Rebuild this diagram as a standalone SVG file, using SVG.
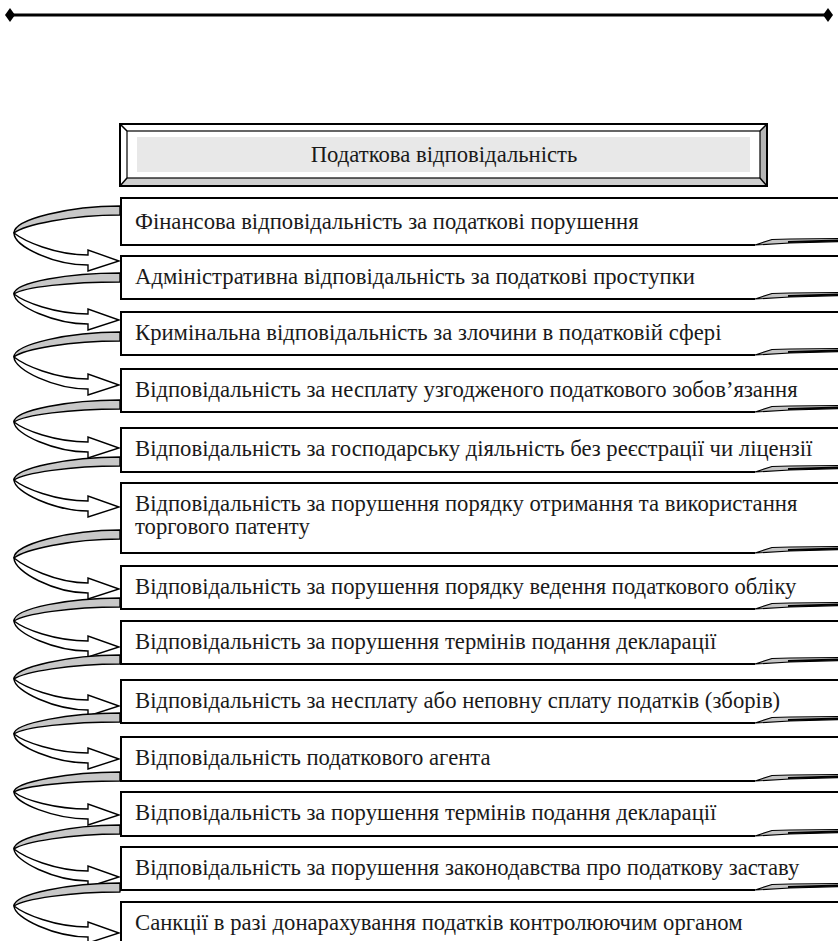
<svg xmlns="http://www.w3.org/2000/svg" width="838" height="941" viewBox="0 0 838 941">
<defs>
<marker id="dia" viewBox="-5 -7 10 14" markerWidth="10" markerHeight="14" markerUnits="userSpaceOnUse" refX="0" refY="0" orient="auto">
<path d="M-5,0 L0,-7 L5,0 L0,7 Z" fill="#000"/>
</marker>
</defs>
<style>
.box{fill:#fff;stroke:#000;stroke-width:2}
.t{font-family:"Liberation Serif","Times New Roman",serif;font-size:22.7px;fill:#1a1a1a}
.back{fill:#c8c8c8;stroke:#000;stroke-width:1.4;stroke-linejoin:round}
.front{fill:#fff;stroke:#000;stroke-width:1.4;stroke-linejoin:miter}
.dec{fill:#c4c4c4;stroke:#000;stroke-width:1.2;stroke-linejoin:round}
.decl{stroke:#000;stroke-width:2;fill:none}
</style>
<rect width="838" height="941" fill="#fff"/>
<line x1="10" y1="15" x2="828" y2="15" stroke="#000" stroke-width="3" marker-start="url(#dia)" marker-end="url(#dia)"/>

<g id="title">
<rect x="120" y="124" width="647" height="62" fill="#fff" stroke="#000" stroke-width="2"/>
<polygon points="120,186 767,186 760,178 127,178" fill="#cfcfcf"/>
<polygon points="767,124 767,186 760,178 760,131" fill="#b5b5b5"/>
<rect x="127" y="131" width="633" height="47" fill="#fff" stroke="#000" stroke-width="1.2"/>
<rect x="137" y="137" width="613" height="35" fill="#e8e8e8"/>
<path d="M120,124 L127,131 M120,186 L127,178 M767,124 L760,131 M767,186 L760,178" stroke="#000" stroke-width="1.5"/>
<rect x="120" y="124" width="647" height="62" fill="none" stroke="#000" stroke-width="2"/>
<text class="t" x="444" y="162" text-anchor="middle">Податкова відповідальність</text>
</g>

<g id="node-1">
<path class="box" d="M840,198 H121 V245 H755"/>
<path class="dec" d="M755,245 L772,239.5 L790,239 L840,238.5 L840,241.5 L790,243 Z"/>
<line class="decl" x1="788" y1="242" x2="840" y2="240.5"/>
<text class="t" x="135" y="229">Фінансова відповідальність за податкові порушення</text>
</g>
<g id="node-2">
<path class="box" d="M840,256 H121 V299 H755"/>
<path class="dec" d="M755,299 L772,293.5 L790,293 L840,292.5 L840,295.5 L790,297 Z"/>
<line class="decl" x1="788" y1="296" x2="840" y2="294.5"/>
<text class="t" x="135" y="284">Адміністративна відповідальність за податкові проступки</text>
</g>
<g id="node-3">
<path class="box" d="M840,312 H121 V355 H755"/>
<path class="dec" d="M755,355 L772,349.5 L790,349 L840,348.5 L840,351.5 L790,353 Z"/>
<line class="decl" x1="788" y1="352" x2="840" y2="350.5"/>
<text class="t" x="135" y="340">Кримінальна відповідальність за злочини в податковій сфері</text>
</g>
<g id="node-4">
<path class="box" d="M840,369 H121 V412 H755"/>
<path class="dec" d="M755,412 L772,406.5 L790,406 L840,405.5 L840,408.5 L790,410 Z"/>
<line class="decl" x1="788" y1="409" x2="840" y2="407.5"/>
<text class="t" x="135" y="397">Відповідальність за несплату узгодженого податкового зобов’язання</text>
</g>
<g id="node-5">
<path class="box" d="M840,428 H121 V472 H755"/>
<path class="dec" d="M755,472 L772,466.5 L790,466 L840,465.5 L840,468.5 L790,470 Z"/>
<line class="decl" x1="788" y1="469" x2="840" y2="467.5"/>
<text class="t" x="135" y="456">Відповідальність за господарську діяльність без реєстрації чи ліцензії</text>
</g>
<g id="node-6">
<path class="box" d="M840,483 H121 V553 H755"/>
<path class="dec" d="M755,553 L772,547.5 L790,547 L840,546.5 L840,549.5 L790,551 Z"/>
<line class="decl" x1="788" y1="550" x2="840" y2="548.5"/>
<text class="t" x="135" y="511">Відповідальність за порушення порядку отримання та використання</text>
<text class="t" x="135" y="534">торгового патенту</text>
</g>
<g id="node-7">
<path class="box" d="M840,566 H121 V609 H755"/>
<path class="dec" d="M755,609 L772,603.5 L790,603 L840,602.5 L840,605.5 L790,607 Z"/>
<line class="decl" x1="788" y1="606" x2="840" y2="604.5"/>
<text class="t" x="135" y="594">Відповідальність за порушення порядку ведення податкового обліку</text>
</g>
<g id="node-8">
<path class="box" d="M840,621 H121 V664 H755"/>
<path class="dec" d="M755,664 L772,658.5 L790,658 L840,657.5 L840,660.5 L790,662 Z"/>
<line class="decl" x1="788" y1="661" x2="840" y2="659.5"/>
<text class="t" x="135" y="649">Відповідальність за порушення термінів подання декларації</text>
</g>
<g id="node-9">
<path class="box" d="M840,680 H121 V723 H755"/>
<path class="dec" d="M755,723 L772,717.5 L790,717 L840,716.5 L840,719.5 L790,721 Z"/>
<line class="decl" x1="788" y1="720" x2="840" y2="718.5"/>
<text class="t" x="135" y="708">Відповідальність за несплату або неповну сплату податків (зборів)</text>
</g>
<g id="node-10">
<path class="box" d="M840,737 H121 V781 H755"/>
<path class="dec" d="M755,781 L772,775.5 L790,775 L840,774.5 L840,777.5 L790,779 Z"/>
<line class="decl" x1="788" y1="778" x2="840" y2="776.5"/>
<text class="t" x="135" y="765">Відповідальність податкового агента</text>
</g>
<g id="node-11">
<path class="box" d="M840,792 H121 V836 H755"/>
<path class="dec" d="M755,836 L772,830.5 L790,830 L840,829.5 L840,832.5 L790,834 Z"/>
<line class="decl" x1="788" y1="833" x2="840" y2="831.5"/>
<text class="t" x="135" y="820">Відповідальність за порушення термінів подання декларації</text>
</g>
<g id="node-12">
<path class="box" d="M840,847 H121 V890 H755"/>
<path class="dec" d="M755,890 L772,884.5 L790,884 L840,883.5 L840,886.5 L790,888 Z"/>
<line class="decl" x1="788" y1="887" x2="840" y2="885.5"/>
<text class="t" x="135" y="875">Відповідальність за порушення законодавства про податкову заставу</text>
</g>
<g id="node-13">
<path class="box" d="M840,902 H121 V950"/>
<text class="t" x="135" y="930">Санкції в разі донарахування податків контролюючим органом</text>
</g>

<g id="connectors">
<path class="back" d="M120,206 C70,206 14,219 14,233 C24,225 70,215 120,215 Z"/>
<path class="front" d="M14,233 C14,247 55,265 88,265 L88,271 L119,261 L88,250 L88,255 C55,255 24,241 14,233 Z"/>
<path class="back" d="M120,273 C70,273 14,282 14,294 C24,287 70,282 120,282 Z"/>
<path class="front" d="M14,294 C14,306 55,324 88,324 L88,330 L119,320 L88,309 L88,314 C55,314 24,302 14,294 Z"/>
<path class="back" d="M120,332 C70,332 14,344 14,357 C24,349 70,341 120,341 Z"/>
<path class="front" d="M14,357 C14,370 55,389 88,389 L88,395 L119,385 L88,374 L88,379 C55,379 24,365 14,357 Z"/>
<path class="back" d="M120,400 C70,400 14,410 14,422 C24,415 70,409 120,409 Z"/>
<path class="front" d="M14,422 C14,434 55,452 88,452 L88,458 L119,448 L88,437 L88,442 C55,442 24,430 14,422 Z"/>
<path class="back" d="M120,457 C70,457 14,468 14,480 C24,473 70,466 120,466 Z"/>
<path class="front" d="M14,480 C14,492 55,511 88,511 L88,517 L119,507 L88,496 L88,501 C55,501 24,488 14,480 Z"/>
<path class="back" d="M120,530 C70,530 14,544 14,558 C24,550 70,539 120,539 Z"/>
<path class="front" d="M14,558 C14,572 55,593 88,593 L88,599 L119,589 L88,578 L88,583 C55,583 24,566 14,558 Z"/>
<path class="back" d="M120,598 C70,598 14,608 14,621 C24,614 70,607 120,607 Z"/>
<path class="front" d="M14,621 C14,633 55,651 88,651 L88,657 L119,647 L88,636 L88,641 C55,641 24,629 14,621 Z"/>
<path class="back" d="M120,655 C70,655 14,667 14,679 C24,672 70,664 120,664 Z"/>
<path class="front" d="M14,679 C14,691 55,710 88,710 L88,716 L119,706 L88,695 L88,700 C55,700 24,687 14,679 Z"/>
<path class="back" d="M120,713 C70,713 14,723 14,734 C24,727 70,722 120,722 Z"/>
<path class="front" d="M14,734 C14,746 55,763 88,763 L88,769 L119,759 L88,748 L88,753 C55,753 24,742 14,734 Z"/>
<path class="back" d="M120,772 C70,772 14,782 14,792 C24,786 70,781 120,781 Z"/>
<path class="front" d="M14,792 C14,803 55,819 88,819 L88,825 L119,815 L88,804 L88,809 C55,809 24,800 14,792 Z"/>
<path class="back" d="M120,825 C70,825 14,837 14,849 C24,842 70,834 120,834 Z"/>
<path class="front" d="M14,849 C14,861 55,881 88,881 L88,887 L119,877 L88,866 L88,871 C55,871 24,857 14,849 Z"/>
<path class="back" d="M120,883 C70,883 14,894 14,906 C24,899 70,892 120,892 Z"/>
<path class="front" d="M14,906 C14,918 55,937 88,937 L88,943 L119,933 L88,922 L88,927 C55,927 24,914 14,906 Z"/>
</g>
</svg>
